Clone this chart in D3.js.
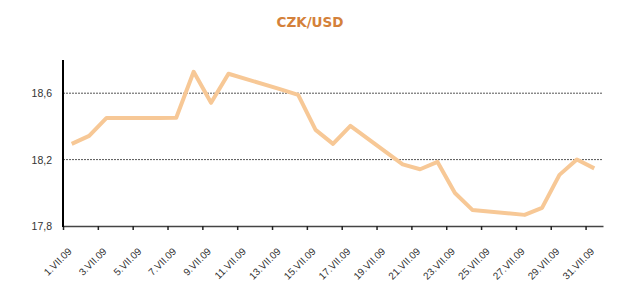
<!DOCTYPE html>
<html lang="cs">
<head>
<meta charset="UTF-8">
<title>CZK/USD</title>
<style>
  body { margin: 0; background: #fff; }
  text { font-family: Arial, "Liberation Sans", sans-serif; }
</style>
</head>
<body>
<div id="chart"></div>
<script src="https://cdn.jsdelivr.net/npm/d3@7"></script>
<script>
// days of July 2009 and CZK/USD rate (null = weekend, no fixing)
const days = d3.range(1, 32);
const rates = [18.295, 18.343, 18.451, null, null, 18.451, 18.452, 18.729, 18.542, 18.717,
  null, null, 18.623, 18.590, 18.379, 18.295, 18.403, null, null, 18.171,
  18.142, 18.186, 17.999, 17.897, null, null, 17.867, 17.909, 18.108, 18.201,
  18.147];
const yTicks = [17.8, 18.2, 18.6];
const xTicks = days.filter(d => d % 2 === 1);

const W = 640, H = 306;
const svg = d3.select("#chart").append("svg")
  .attr("width", W).attr("height", H);

// title
svg.append("text")
  .attr("x", 310).attr("y", 27)
  .attr("text-anchor", "middle")
  .style("font-family", "'DejaVu Sans', sans-serif")
  .style("font-size", "13.5px").style("font-weight", "bold")
  .style("fill", "#d4813a")
  .text("CZK/USD");

const x = d3.scaleLinear().domain([1, 32]).range([63, 603]);
const y = d3.scaleLinear().domain([17.8, 18.8]).range([226, 60]);

// dotted grid lines
svg.selectAll("line.grid")
  .data(yTicks.slice(1))
  .join("line")
    .attr("class", "grid")
    .attr("x1", x(1)).attr("x2", x(32))
    .attr("y1", d => y(d)).attr("y2", d => y(d))
    .style("stroke", "#555")
    .style("stroke-width", 1)
    .style("stroke-dasharray", "2,1");

// x axis
const xAxis = svg.append("g")
  .attr("transform", `translate(0, ${y(17.8)})`)
  .call(d3.axisBottom(x).tickValues(xTicks).tickSize(4).tickSizeOuter(0)
    .tickFormat(d => d + ".VII.09"));
xAxis.select(".domain").style("stroke", "#444").style("stroke-width", 1.5);
xAxis.selectAll(".tick line").style("stroke", "#222").style("stroke-width", 1.5);
xAxis.selectAll(".tick text")
  .attr("text-anchor", "end")
  .attr("dy", 0)
  .attr("transform", "translate(4, 21) rotate(-45)")
  .style("font-size", "10px")
  .style("fill", "#333");

// y axis labels
svg.selectAll("text.ylab")
  .data(yTicks)
  .join("text")
    .attr("class", "ylab")
    .attr("x", 52)
    .attr("y", d => y(d) + 4)
    .attr("text-anchor", "end")
    .style("font-size", "10.5px")
    .style("fill", "#333")
    .text(d => d3.format(".1f")(d).replace(".", ","));

// y axis line
svg.append("line")
  .attr("x1", x(1)).attr("x2", x(1))
  .attr("y1", y(18.8)).attr("y2", y(17.8) + 1)
  .style("stroke", "#000")
  .style("stroke-width", 2);

// rate line through days with data
const pts = days.map((d, i) => ({day: d, v: rates[i]})).filter(p => p.v !== null);
svg.append("path")
  .datum(pts)
  .attr("d", d3.line().x(p => x(p.day + 0.5)).y(p => y(p.v)))
  .style("fill", "none")
  .style("stroke", "#f7c896")
  .style("stroke-width", 4)
  .style("stroke-linejoin", "round");
</script>
</body>
</html>
